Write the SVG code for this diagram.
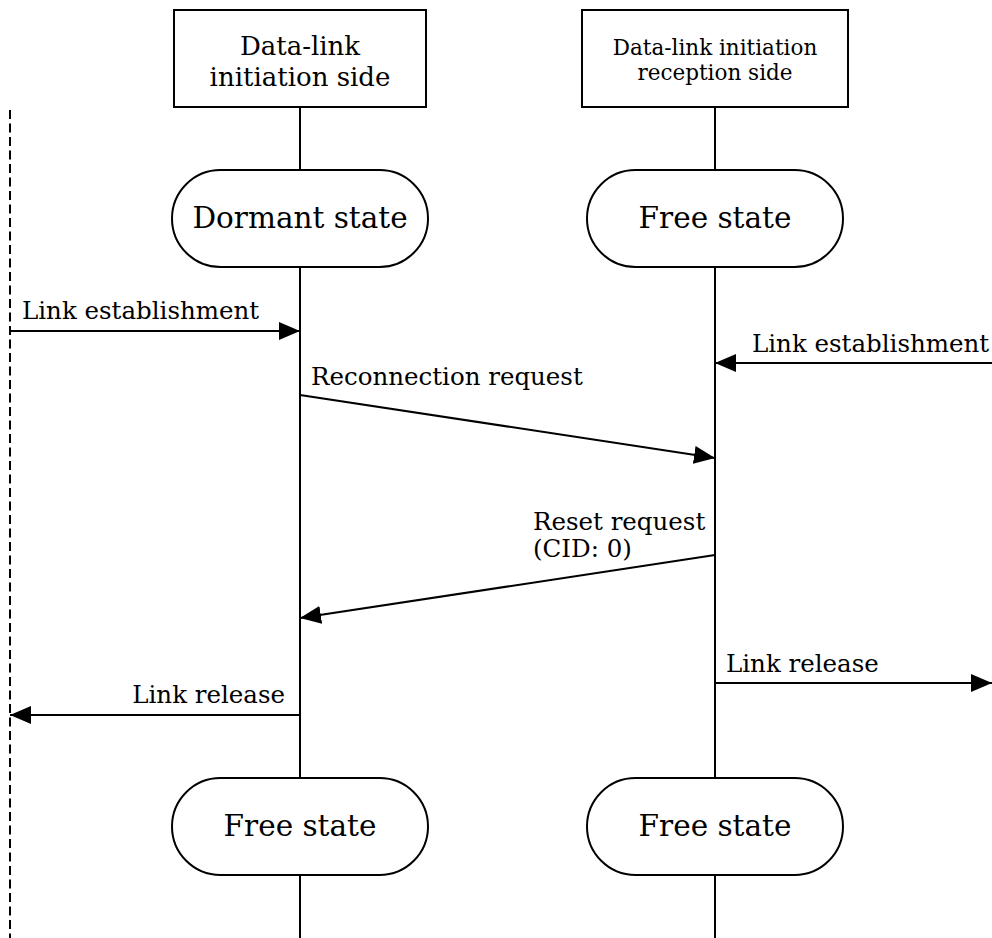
<svg xmlns="http://www.w3.org/2000/svg" width="992" height="938" viewBox="0 0 992 938">
  <defs>
    <marker id="arrow" markerUnits="userSpaceOnUse" markerWidth="21" markerHeight="18" refX="21" refY="9" orient="auto">
      <path d="M0,0 L21,9 L0,18 Z" fill="#000"/>
    </marker>
    <style>
      text { font-family: "DejaVu Serif", "Liberation Serif", serif; fill: #000; }
      .box { fill: #fff; stroke: #000; stroke-width: 2; }
      .life { stroke: #000; stroke-width: 2; fill: none; }
      .msg { stroke: #000; stroke-width: 2; fill: none; marker-end: url(#arrow); }
      .dash { stroke: #000; stroke-width: 2; stroke-dasharray: 9 4.5; fill: none; }
      .st { font-size: 29.5px; text-anchor: middle; }
      .hd { font-size: 26px; text-anchor: middle; }
      .hd2 { font-size: 21.5px; text-anchor: middle; }
      .lbl { font-size: 24.5px; }
    </style>
  </defs>
  <rect width="992" height="938" fill="#fff"/>

  <!-- lifelines and the external boundary -->
  <g id="lifelines">
    <line class="life" x1="300" y1="107" x2="300" y2="938"/>
    <line class="life" x1="715" y1="107" x2="715" y2="938"/>
    <line class="dash" x1="10" y1="110" x2="10" y2="938"/>
  </g>

  <g id="initiator">
    <rect class="box" x="174" y="10" width="252" height="97"/>
    <text class="hd" x="300" y="55">Data-link</text>
    <text class="hd" x="300" y="86">initiation side</text>
  </g>
  <g id="receiver">
    <rect class="box" x="582" y="10" width="266" height="97"/>
    <text class="hd2" x="715" y="55">Data-link initiation</text>
    <text class="hd2" x="715" y="80">reception side</text>
  </g>

  <g id="initiator-dormant">
    <rect class="box" x="172" y="170" width="256" height="97" rx="48.5"/>
    <text class="st" x="300" y="228">Dormant state</text>
  </g>
  <g id="receiver-free">
    <rect class="box" x="587" y="170" width="256" height="97" rx="48.5"/>
    <text class="st" x="715" y="228">Free state</text>
  </g>
  <g id="initiator-free">
    <rect class="box" x="172" y="778" width="256" height="97" rx="48.5"/>
    <text class="st" x="300" y="836">Free state</text>
  </g>
  <g id="receiver-free-end">
    <rect class="box" x="587" y="778" width="256" height="97" rx="48.5"/>
    <text class="st" x="715" y="836">Free state</text>
  </g>

  <!-- messages -->
  <g id="connectors">
    <line class="msg" x1="10" y1="331" x2="300" y2="331"/>
    <line class="msg" x1="992" y1="363" x2="715" y2="363"/>
    <line class="msg" x1="300" y1="395" x2="715" y2="458"/>
    <line class="msg" x1="715" y1="555" x2="300" y2="618"/>
    <line class="msg" x1="715" y1="683" x2="992" y2="683"/>
    <line class="msg" x1="300" y1="715" x2="10" y2="715"/>
  </g>

  <g id="labels">
    <text class="lbl" x="22" y="319">Link establishment</text>
    <text class="lbl" x="752" y="352">Link establishment</text>
    <text class="lbl" x="311" y="385">Reconnection request</text>
    <text class="lbl" x="533" y="530">Reset request</text>
    <text class="lbl" x="533" y="557">(CID: 0)</text>
    <text class="lbl" x="726" y="672">Link release</text>
    <text class="lbl" x="285" y="703" text-anchor="end">Link release</text>
  </g>
</svg>
